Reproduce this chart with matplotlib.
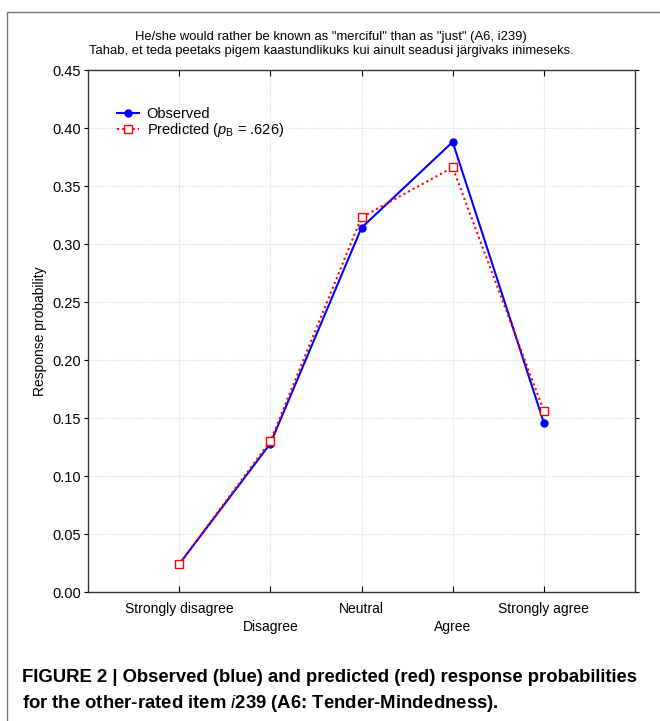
import matplotlib
matplotlib.use("Agg")
import matplotlib.pyplot as plt
from matplotlib.lines import Line2D
from matplotlib import font_manager

plt.rcParams['font.family'] = ['Liberation Sans', 'DejaVu Sans']
plt.rcParams['mathtext.fontset'] = 'custom'
plt.rcParams['mathtext.it'] = 'Liberation Sans:italic'
plt.rcParams['mathtext.rm'] = 'Liberation Sans'

categories = ["Strongly disagree", "Disagree", "Neutral", "Agree", "Strongly agree"]
observed = [0.024, 0.128, 0.314, 0.388, 0.146]
predicted = [0.024, 0.130, 0.323, 0.366, 0.156]
yticks = [0.00, 0.05, 0.10, 0.15, 0.20, 0.25, 0.30, 0.35, 0.40, 0.45]

fig = plt.figure(figsize=(6.6, 7.21), dpi=100)
ax = fig.add_axes([88/660, 1-592/721, (635-88)/660, (592-70)/721])

x = list(range(1, len(categories)+1))
ax.plot(x, observed, color='#0000ff', lw=1.5, marker='o', ms=5, label='Observed', zorder=3)
ax.plot(x, predicted, color='#ff0000', lw=1.5, ls=(0, (1, 1.5)), marker='s', ms=5.5,
        mfc='white', mec='#ff0000', mew=1.0, label=r'Predicted ($p_{\mathrm{B}}$ = .626)', zorder=4)

ax.set_xlim(0, 6)
ax.set_ylim(0, 0.45)
ax.set_yticks(yticks)
ax.set_yticklabels([f"{v:.2f}" for v in yticks], fontsize=10.5)
ax.set_xticks(x)
labels = [c if i % 2 == 0 else "\n" + c for i, c in enumerate(categories)]
ax.set_xticklabels(labels, fontsize=10, linespacing=1.35)
ax.tick_params(axis='x', direction='in', length=4, top=True, pad=7)
ax.tick_params(axis='y', direction='out', length=3, right=True, pad=2)
ax.tick_params(axis='y', which='both', labelright=False)
for s in ax.spines.values():
    s.set_color('#333333')
    s.set_linewidth(1.0)
ax.grid(True, color='#e6e6e6', lw=0.8, ls=(0, (2, 1)))
ax.set_axisbelow(True)
ax.set_ylabel("Response probability", fontsize=10, labelpad=4)

leg = ax.legend(loc='upper left', bbox_to_anchor=(0.042, 0.94), frameon=False, fontsize=10.5,
                handlelength=1.55, handletextpad=0.5, labelspacing=0.0, borderaxespad=0)

fig.text(331/660, 1-37/721, 'He/she would rather be known as "merciful" than as "just" (A6, i239)',
         ha='center', va='center', fontsize=9.35)
fig.text(331/660, 1-51/721, 'Tahab, et teda peetaks pigem kaastundlikuks kui ainult seadusi järgivaks inimeseks.',
         ha='center', va='center', fontsize=9.35)

names = {f.name for f in font_manager.fontManager.ttflist}
capfam = ['Liberation Sans Narrow', 'Liberation Sans'] if 'Liberation Sans Narrow' in names else ['Liberation Sans']
fig.text(22/660, 1-678/721, 'FIGURE 2 | Observed (blue) and predicted (red) response probabilities',
         ha='left', va='center', fontsize=13.3, fontweight='bold', family=capfam)
fig.text(22/660, 1-704/721, 'for the other-rated item $\\mathbf{\\mathit{i}}$239 (A6: Tender-Mindedness).',
         ha='left', va='center', fontsize=13.3, fontweight='bold', family=capfam)

fig.add_artist(Line2D([7/660, 7/660, 1.0], [0, 1-12/721, 1-12/721], transform=fig.transFigure,
                      color='#777777', lw=1.0))

fig.savefig("out.png", dpi=100)
